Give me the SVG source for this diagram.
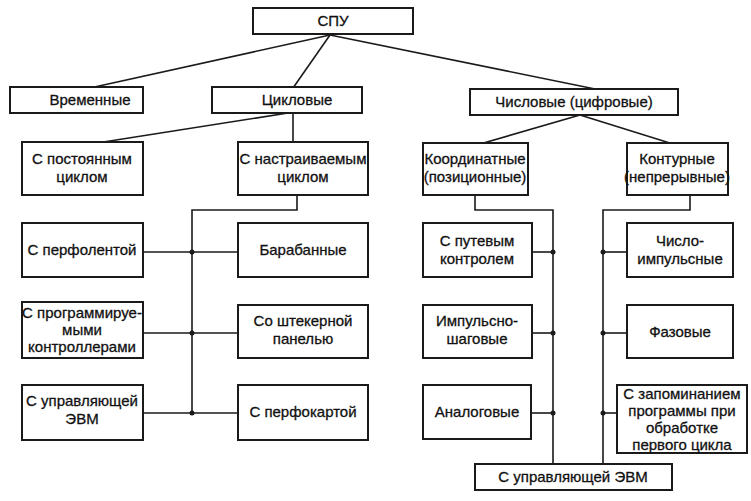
<svg xmlns="http://www.w3.org/2000/svg" width="751" height="501" viewBox="0 0 751 501">
<style>
.bg{fill:#ffffff}
.box{fill:#ffffff;stroke:#1a1a1a;stroke-width:2}
.ln{fill:none;stroke:#1a1a1a;stroke-width:1.6}
.dot{fill:#1a1a1a}
text{font-family:"Liberation Sans",Arial,sans-serif;font-size:15px;fill:#111;text-anchor:middle;stroke:#111;stroke-width:0.3}
</style>
<rect class="bg" x="0" y="0" width="751" height="501"/>
<g id="connectors">
<line class="ln" x1="330" y1="35" x2="90" y2="88"/>
<line class="ln" x1="330" y1="35" x2="293" y2="88"/>
<line class="ln" x1="330" y1="35" x2="600" y2="90"/>
<line class="ln" x1="288" y1="113" x2="97" y2="143"/>
<line class="ln" x1="293" y1="113" x2="293" y2="143"/>
<line class="ln" x1="580" y1="115" x2="480" y2="144"/>
<line class="ln" x1="580" y1="115" x2="673" y2="144"/>
<polyline class="ln" points="297,195 297,210 192,210 192,413"/>
<line class="ln" x1="143" y1="252" x2="238" y2="252"/>
<line class="ln" x1="143" y1="333" x2="238" y2="333"/>
<line class="ln" x1="143" y1="413" x2="238" y2="413"/>
<polyline class="ln" points="475,195 475,210 553,210 553,464"/>
<line class="ln" x1="532" y1="252" x2="553" y2="252"/>
<line class="ln" x1="532" y1="333" x2="553" y2="333"/>
<line class="ln" x1="532" y1="413" x2="553" y2="413"/>
<polyline class="ln" points="690,195 690,210 603,210 603,464"/>
<line class="ln" x1="603" y1="252" x2="627" y2="252"/>
<line class="ln" x1="603" y1="333" x2="627" y2="333"/>
<line class="ln" x1="603" y1="413" x2="617" y2="413"/>
<circle class="dot" cx="192" cy="252" r="2.5"/>
<circle class="dot" cx="192" cy="333" r="2.5"/>
<circle class="dot" cx="192" cy="413" r="2.5"/>
<circle class="dot" cx="553" cy="252" r="2.5"/>
<circle class="dot" cx="553" cy="333" r="2.5"/>
<circle class="dot" cx="553" cy="413" r="2.5"/>
<circle class="dot" cx="603" cy="252" r="2.5"/>
<circle class="dot" cx="603" cy="333" r="2.5"/>
<circle class="dot" cx="603" cy="413" r="2.5"/>
</g>
<g id="spu"><rect class="box" x="253" y="8" width="160" height="26"/><text x="333" y="26">СПУ</text></g>
<g id="vremennye"><rect class="box" x="10" y="87" width="133" height="26"/><text x="90" y="105">Временные</text></g>
<g id="tsiklovye"><rect class="box" x="212" y="87" width="150" height="26"/><text x="297" y="105">Цикловые</text></g>
<g id="chislovye"><rect class="box" x="470" y="89" width="208" height="26"/><text x="574" y="107">Числовые (цифровые)</text></g>
<g id="postoyannym"><rect class="box" x="22" y="142" width="121" height="53"/><text x="82" y="164">С постоянным</text><text x="82" y="182">циклом</text></g>
<g id="nastraivaemym"><rect class="box" x="238" y="142" width="130" height="53"/><text x="303" y="164">С настраиваемым</text><text x="303" y="182">циклом</text></g>
<g id="koordinatnye"><rect class="box" x="423" y="143" width="105" height="52"/><text x="475" y="164">Координатные</text><text x="475" y="182">(позиционные)</text></g>
<g id="konturnye"><rect class="box" x="627" y="143" width="101" height="52"/><text x="677" y="164">Контурные</text><text x="677" y="182">(непрерывные)</text></g>
<g id="perfolentoy"><rect class="box" x="22" y="223" width="121" height="54"/><text x="82" y="255">С перфолентой</text></g>
<g id="barabannye"><rect class="box" x="238" y="223" width="130" height="54"/><text x="303" y="255">Барабанные</text></g>
<g id="putevym"><rect class="box" x="423" y="223" width="109" height="54"/><text x="477" y="246">С путевым</text><text x="477" y="264">контролем</text></g>
<g id="chislo-impulsnye"><rect class="box" x="627" y="223" width="106" height="54"/><text x="680" y="246">Число-</text><text x="680" y="264">импульсные</text></g>
<g id="programmiruemymi"><rect class="box" x="22" y="302" width="121" height="56"/><text x="82" y="318">С программируе-</text><text x="82" y="335">мыми</text><text x="82" y="352">контроллерами</text></g>
<g id="shtekernoy"><rect class="box" x="238" y="305" width="130" height="53"/><text x="303" y="326">Со штекерной</text><text x="303" y="344">панелью</text></g>
<g id="impulsno-shagovye"><rect class="box" x="423" y="305" width="109" height="53"/><text x="477" y="326">Импульсно-</text><text x="477" y="344">шаговые</text></g>
<g id="fazovye"><rect class="box" x="627" y="305" width="106" height="53"/><text x="680" y="337">Фазовые</text></g>
<g id="upr-evm-left"><rect class="box" x="22" y="385" width="121" height="55"/><text x="82" y="406">С управляющей</text><text x="82" y="424">ЭВМ</text></g>
<g id="perfokartoy"><rect class="box" x="238" y="385" width="130" height="55"/><text x="303" y="417">С перфокартой</text></g>
<g id="analogovye"><rect class="box" x="423" y="385" width="108" height="54"/><text x="477" y="417">Аналоговые</text></g>
<g id="zapominaniem"><rect class="box" x="617" y="385" width="130" height="68"/><text x="682" y="399">С запоминанием</text><text x="682" y="416">программы при</text><text x="682" y="433">обработке</text><text x="682" y="450">первого цикла</text></g>
<g id="upr-evm-bottom"><rect class="box" x="475" y="464" width="197" height="26"/><text x="573" y="482">С управляющей ЭВМ</text></g>
</svg>
